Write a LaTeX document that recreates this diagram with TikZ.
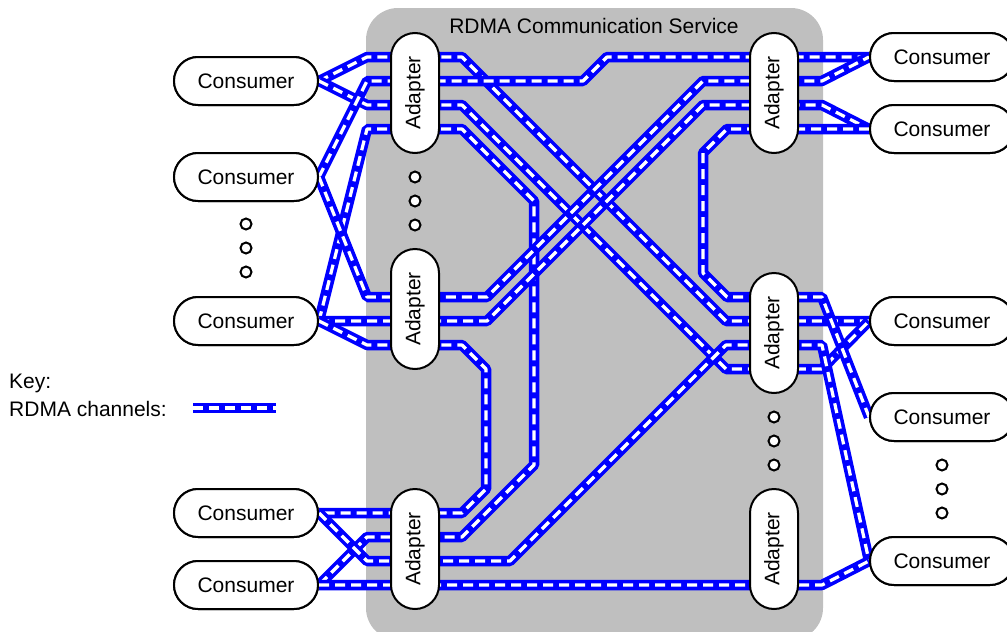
\documentclass[tikz,border=0pt]{standalone}
\usepackage{fontspec}
\setmainfont{Liberation Sans}
\definecolor{svcgray}{HTML}{BFBFBF}
\definecolor{chanblue}{HTML}{0000FF}
\begin{document}
\begin{tikzpicture}[x=1pt,y=-1pt,
  every node/.style={font=\fontsize{21}{25}\selectfont},
  consumer/.style={draw, line width=2pt, fill=white, rounded corners=24pt,
    minimum width=144pt, minimum height=48pt, inner sep=0pt},
  adapter/.style={draw, line width=2pt, fill=white, rounded corners=24pt,
    minimum width=120pt, minimum height=48pt, inner sep=0pt, rotate=90},
  dotc/.style={circle, draw, line width=2pt, fill=white, minimum size=11pt, inner sep=0pt},
  chan/.style={draw=chanblue, line width=10.5pt, line join=bevel,
    postaction={draw=white, line width=3.2pt, dash pattern=on 10pt off 6pt}},
  lbl/.style={anchor=west, inner sep=0pt}
]
\useasboundingbox (0,0) rectangle (1007,632);
% service box
\fill[svcgray, rounded corners=32pt] (366,8) rectangle (823,640);
\node (title) at (594,26) {RDMA Communication Service};

% consumers
\node[consumer] (c1) at (246,81) {Consumer};
\node[consumer] (c2) at (246,177) {Consumer};
\node[consumer] (c3) at (246,321) {Consumer};
\node[consumer] (c4) at (246,513) {Consumer};
\node[consumer] (c5) at (246,585) {Consumer};
\node[consumer] (rc1) at (942,57) {Consumer};
\node[consumer] (rc2) at (942,129) {Consumer};
\node[consumer] (rc3) at (942,321) {Consumer};
\node[consumer] (rc4) at (942,417) {Consumer};
\node[consumer] (rc5) at (942,561) {Consumer};

% channels
\draw[chan] (c1.east) -- (367,57) -- (462,57) -- (726,321) -- (rc3.west);
\draw[chan] (c1.east) -- (367,105) -- (462,105) -- (726,369) -- (822,369) -- (rc3.west);
\draw[chan] (c2.east) -- (367,81) -- (583,81) -- (607,57) -- (rc1.west);
\draw[chan] (c3.east) -- (367,129) -- (462,129) -- (534,201) -- (534,465) -- (462,537) -- (367,537) -- (c5.east);
\draw[chan] (c2.east) -- (367,297) -- (487,297) -- (703,81) -- (822,81) -- (rc1.west);
\draw[chan] (c3.east) -- (487,321) -- (703,105) -- (822,105) -- (rc2.west);
\draw[chan] (c3.east) -- (367,345) -- (462,345) -- (486,369) -- (486,489) -- (462,513) -- (c4.east);
\draw[chan] (c4.east) -- (367,561) -- (510,561) -- (726,345) -- (822,345) -- (rc5.west);
\draw[chan] (c5.east) -- (822,585) -- (rc5.west);
\draw[chan] (rc2.west) -- (727,129) -- (703,153) -- (703,273) -- (727,297) -- (822,297) -- (rc4.west);

% consumers redrawn on top
\foreach \n/\x/\y in {c1/246/81,c2/246/177,c3/246/321,c4/246/513,c5/246/585,
  rc1/942/57,rc2/942/129,rc3/942/321,rc4/942/417,rc5/942/561}
  \node[consumer] at (\x,\y) {Consumer};

% adapters
\node[adapter] (a1) at (415,93) {Adapter};
\node[adapter] (a2) at (415,309) {Adapter};
\node[adapter] (a3) at (415,549) {Adapter};
\node[adapter] (b1) at (774,93) {Adapter};
\node[adapter] (b2) at (774,333) {Adapter};
\node[adapter] (b3) at (774,549) {Adapter};

% ellipsis dots
\node[dotc] (ld1) at (246,224) {};
\node[dotc] (ld2) at (246,248) {};
\node[dotc] (ld3) at (246,272) {};
\node[dotc] (ad1) at (415,177) {};
\node[dotc] (ad2) at (415,201) {};
\node[dotc] (ad3) at (415,225) {};
\node[dotc] (bd1) at (774,417) {};
\node[dotc] (bd2) at (774,441) {};
\node[dotc] (bd3) at (774,465) {};
\node[dotc] (rd1) at (942,465) {};
\node[dotc] (rd2) at (942,489) {};
\node[dotc] (rd3) at (942,513) {};

% key
\node[lbl] (key) at (9,383) {Key:};
\node[lbl] (keych) at (9,409) {RDMA channels:};
\coordinate (k1) at (193,408);
\coordinate (k2) at (276,408);
\draw[chan] (k1) -- (k2);
\end{tikzpicture}
\end{document}
